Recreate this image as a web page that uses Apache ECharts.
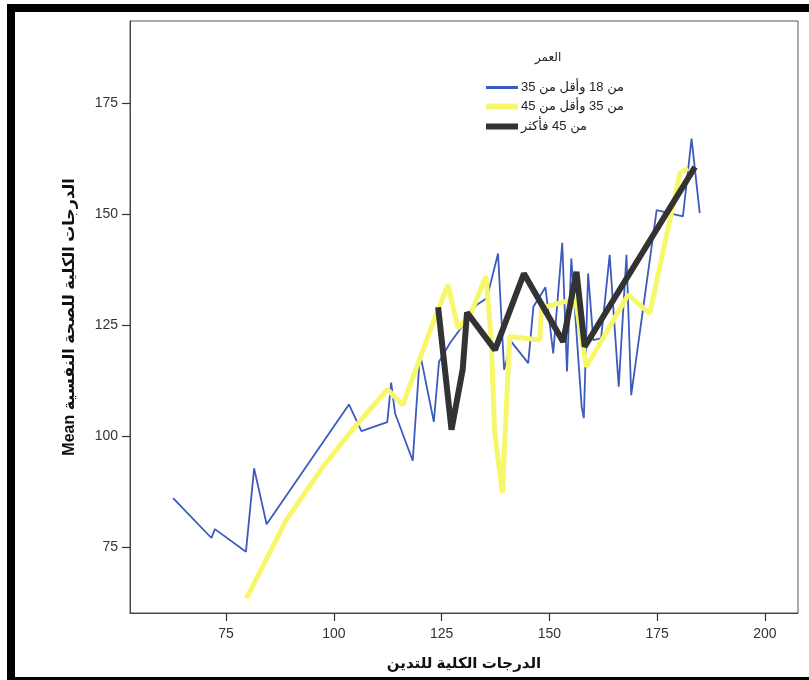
<!DOCTYPE html>
<html><head><meta charset="utf-8">
<script src="https://cdn.jsdelivr.net/npm/echarts@6/dist/echarts.min.js"></script>
<style>html,body{margin:0;padding:0;background:#fff}#c{width:809px;height:680px}</style>
</head><body><div id="c"></div>
<script>
const seriesNames = ['من 18 وأقل من 35', 'من 35 وأقل من 45', 'من 45 فأكثر'];
const legendTitle = 'العمر';
const xTitle = 'الدرجات الكلية للتدين';
const yTitle = 'Mean الدرجات الكلية للصحة النفسية';
const xTicks = [75, 100, 125, 150, 175, 200];
const yTicks = [75, 100, 125, 150, 175];

const blueX = [62.7, 71.6, 72.4, 79.6, 81.5, 84.4, 103.5, 106.4, 112.4, 113.3, 114.2, 118.3, 120.0, 123.2, 124.4, 127, 130, 133.1, 135.5, 138.1, 139.5, 141.2, 143, 145.1, 146.3, 149.1, 150.9, 153.0, 154.1, 155.1, 157.5, 158.0, 159.0, 160.2, 162, 164.0, 166.1, 167.9, 169.0, 174.9, 179.5, 181.0, 183.0, 184.9];
const blueY = [86.0, 77.0, 79.0, 73.9, 92.7, 80.1, 107.1, 101.1, 103.1, 112.0, 105.1, 94.4, 118.6, 103.2, 116.7, 121, 125, 129.5, 131, 141.1, 114.9, 121.2, 119, 116.4, 129.1, 133.5, 118.6, 143.5, 114.5, 140.0, 106.6, 104.0, 136.6, 121.6, 122, 140.8, 111.1, 140.8, 109.2, 150.9, 149.8, 149.5, 167.0, 150.2];

const yellowX = [79.7, 89.0, 97.5, 104.0, 112.4, 116.0, 123.4, 126.5, 128.8, 131.5, 135.3, 136.5, 137.3, 139.1, 140.8, 147.8, 148.2, 154.8, 156.0, 158.6, 168.3, 173.3, 180.3, 182.2];
const yellowY = [63.4, 81.1, 93.1, 101.0, 110.5, 107.0, 126.5, 134.0, 124.3, 127.0, 136.0, 122.0, 101.0, 87.1, 122.4, 121.6, 128.8, 130.6, 131.0, 115.6, 131.8, 127.6, 159.2, 160.3];

const blackX = [124.2, 127.3, 129.9, 130.9, 137.4, 144.1, 153.2, 156.3, 158.2, 183.8];
const blackY = [129.0, 101.4, 115.0, 127.8, 119.4, 136.6, 121.2, 137.0, 120.1, 160.6];

const zip = (xs, ys) => xs.map((x, i) => [x, ys[i]]);
const FONT = '"Liberation Sans", Arial, "DejaVu Sans", sans-serif';
const colors = ['#3d5bbd', '#f7f76b', '#333333'];
const widths = [1.8, 5, 6];

const chart = echarts.init(document.getElementById('c'), null, {renderer: 'canvas'});
const legendTops = [81, 100, 120];
const legendH = [3, 6, 6];
chart.setOption({
  animation: false,
  backgroundColor: '#fff',
  title: {text: legendTitle, left: 530, top: 47, textStyle: {fontFamily: FONT, fontSize: 12, fontWeight: 'normal', color: '#222'}},
  legend: seriesNames.map((n, i) => ({
    data: [n], left: 486, top: legendTops[i], icon: 'rect', itemWidth: 32, itemHeight: legendH[i],
    itemGap: 0, padding: 0, textStyle: {fontFamily: FONT, fontSize: 13, color: '#222', padding: [0, 0, 0, -2]}
  })),
  grid: {left: 130, right: 11, top: 21, bottom: 67, show: true, borderColor: '#555', borderWidth: 1},
  xAxis: {
    type: 'value', min: 52.7, max: 207.7,
    name: xTitle, nameLocation: 'middle', nameGap: 43,
    nameTextStyle: {fontFamily: FONT, fontSize: 15, fontWeight: 'bold', color: '#111'},
    axisLine: {show: true, onZero: false, lineStyle: {color: '#444', width: 1}},
    axisTick: {show: true, inside: false, length: 8, customValues: xTicks, lineStyle: {color: '#333', width: 1.2}},
    axisLabel: {customValues: xTicks, fontFamily: FONT, fontSize: 14, color: '#333', margin: 14},
    splitLine: {show: false}
  },
  yAxis: {
    type: 'value', min: 60.1, max: 193.5,
    name: yTitle, nameLocation: 'middle', nameGap: 52,
    nameTextStyle: {fontFamily: FONT, fontSize: 16, fontWeight: 'bold', color: '#111'},
    axisLine: {show: true, onZero: false, lineStyle: {color: '#444', width: 1}},
    axisTick: {show: true, inside: false, length: 8, customValues: yTicks, lineStyle: {color: '#333', width: 1.2}},
    axisLabel: {customValues: yTicks, fontFamily: FONT, fontSize: 14, color: '#333', margin: 12},
    splitLine: {show: false}
  },
  graphic: [
    {type: 'rect', shape: {x: 7, y: 4, width: 802, height: 8}, style: {fill: '#000'}},
    {type: 'rect', shape: {x: 7, y: 4, width: 8, height: 676}, style: {fill: '#000'}},
    {type: 'rect', shape: {x: 7, y: 677, width: 802, height: 3}, style: {fill: '#000'}}
  ],
  series: [
    {name: seriesNames[0], type: 'line', data: zip(blueX, blueY), showSymbol: false, z: 2, color: colors[0], lineStyle: {width: widths[0], color: colors[0]}},
    {name: seriesNames[1], type: 'line', data: zip(yellowX, yellowY), showSymbol: false, z: 3, color: colors[1], lineStyle: {width: widths[1], color: colors[1]}},
    {name: seriesNames[2], type: 'line', data: zip(blackX, blackY), showSymbol: false, z: 4, color: colors[2], lineStyle: {width: widths[2], color: colors[2]}}
  ]
});
</script></body></html>
